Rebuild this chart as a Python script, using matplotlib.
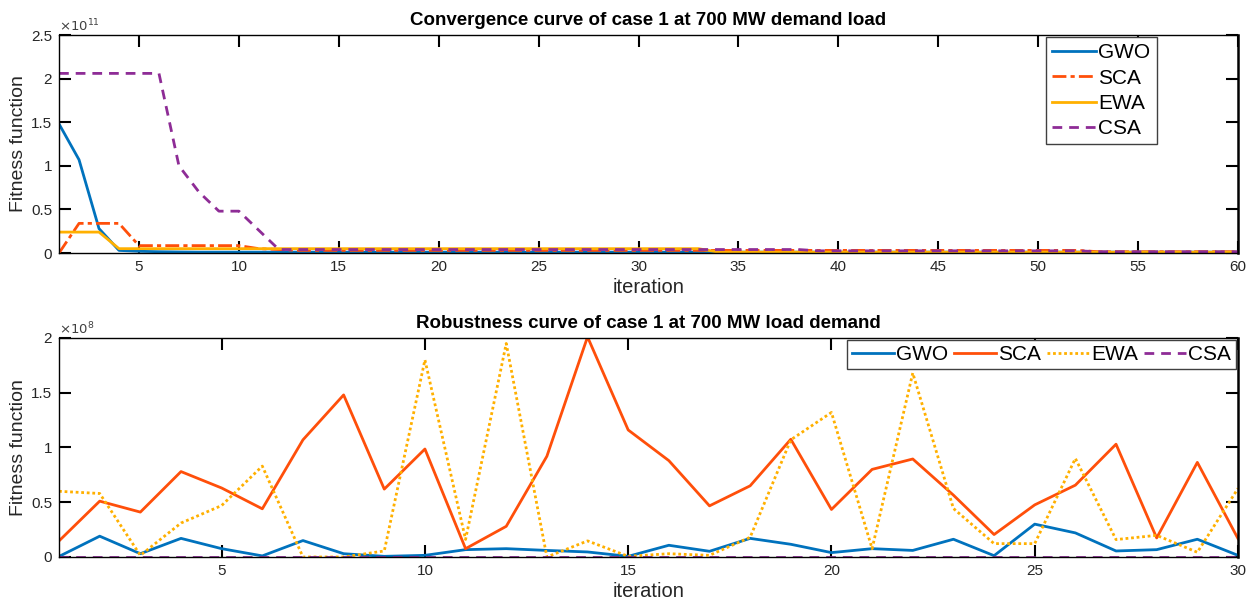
import matplotlib
matplotlib.use("Agg")
import matplotlib.pyplot as plt
from matplotlib.ticker import FuncFormatter
import numpy as np

plt.rcParams["font.family"] = ["Liberation Sans", "DejaVu Sans"]

# --- convergence curves (values in units of 1e11), iterations 1..60 ---
conv_iter = list(range(1, 61))
conv_gwo = [1.48, 1.07, 0.28, 0.03, 0.02, 0.015, 0.012, 0.01, 0.01, 0.01,
            0.01, 0.01, 0.01, 0.01, 0.01, 0.01, 0.01, 0.01, 0.01, 0.01,
            0.01, 0.01, 0.01, 0.01, 0.01, 0.01, 0.01, 0.01, 0.01, 0.01,
            0.01, 0.01, 0.01, 0.01, 0.01, 0.01, 0.01, 0.01, 0.01, 0.01,
            0.01, 0.01, 0.01, 0.01, 0.01, 0.01, 0.01, 0.01, 0.01, 0.01,
            0.01, 0.01, 0.01, 0.01, 0.01, 0.01, 0.01, 0.01, 0.01, 0.01]
conv_sca = [0.0, 0.34, 0.34, 0.34, 0.085, 0.085, 0.085, 0.085, 0.085, 0.085,
            0.05, 0.04, 0.03, 0.03, 0.03, 0.03, 0.03, 0.03, 0.03, 0.03,
            0.03, 0.03, 0.03, 0.03, 0.03, 0.03, 0.03, 0.03, 0.03, 0.03,
            0.03, 0.03, 0.03, 0.03, 0.03, 0.03, 0.03, 0.03, 0.03, 0.03,
            0.03, 0.03, 0.03, 0.03, 0.03, 0.03, 0.03, 0.03, 0.03, 0.03,
            0.03, 0.03, 0.015, 0.015, 0.015, 0.015, 0.015, 0.015, 0.015, 0.015]
conv_ewa = [0.24, 0.24, 0.24, 0.05, 0.05, 0.05, 0.05, 0.05, 0.05, 0.05,
            0.05, 0.05, 0.05, 0.05, 0.05, 0.05, 0.05, 0.05, 0.05, 0.05,
            0.05, 0.05, 0.05, 0.05, 0.05, 0.05, 0.05, 0.05, 0.05, 0.05,
            0.05, 0.05, 0.05, 0.01, 0.01, 0.01, 0.01, 0.01, 0.01, 0.01,
            0.01, 0.01, 0.01, 0.01, 0.01, 0.01, 0.01, 0.01, 0.01, 0.01,
            0.01, 0.01, 0.01, 0.01, 0.01, 0.01, 0.01, 0.01, 0.01, 0.01]
conv_csa = [2.06, 2.06, 2.06, 2.06, 2.06, 2.06, 1.0, 0.70, 0.48, 0.48,
            0.26, 0.04, 0.04, 0.04, 0.04, 0.04, 0.04, 0.04, 0.04, 0.04,
            0.04, 0.04, 0.04, 0.04, 0.04, 0.04, 0.04, 0.04, 0.04, 0.04,
            0.04, 0.04, 0.04, 0.04, 0.04, 0.04, 0.04, 0.04, 0.025, 0.025,
            0.025, 0.025, 0.025, 0.025, 0.025, 0.025, 0.025, 0.025, 0.025, 0.025,
            0.025, 0.025, 0.015, 0.015, 0.015, 0.015, 0.015, 0.015, 0.015, 0.015]

# --- robustness curves (values in units of 1e8), runs 1..30 ---
rob_iter = list(range(1, 31))
rob_gwo = [0.005, 0.19, 0.03, 0.17, 0.076, 0.01, 0.15, 0.03, 0.006, 0.015,
           0.067, 0.076, 0.06, 0.046, 0.006, 0.107, 0.052, 0.17, 0.116, 0.04,
           0.076, 0.06, 0.162, 0.012, 0.30, 0.22, 0.055, 0.067, 0.162, 0.015]
rob_sca = [0.147, 0.51, 0.41, 0.78, 0.63, 0.44, 1.07, 1.48, 0.62, 0.986,
           0.076, 0.28, 0.92, 2.01, 1.16, 0.88, 0.467, 0.65, 1.075, 0.434,
           0.80, 0.895, 0.565, 0.205, 0.476, 0.656, 1.03, 0.174, 0.864, 0.168]
rob_ewa = [0.60, 0.58, 0.015, 0.31, 0.47, 0.83, 0.0, 0.0, 0.055, 1.80,
           0.16, 1.95, 0.0, 0.147, 0.006, 0.03, 0.015, 0.18, 1.07, 1.32,
           0.076, 1.68, 0.443, 0.122, 0.122, 0.90, 0.159, 0.198, 0.043, 0.626]
rob_csa = [0.0, 0.0, 0.0, 0.0, 0.0, 0.0, 0.0, 0.0, 0.0, 0.0,
           0.0, 0.0, 0.0, 0.0, 0.0, 0.0, 0.0, 0.0, 0.0, 0.0,
           0.0, 0.0, 0.0, 0.0, 0.0, 0.0, 0.0, 0.0, 0.0, 0.0]

labels = ["GWO", "SCA", "EWA", "CSA"]
colors = ["#0072BD", "#FF4F0A", "#FFB000", "#8E2C96"]


def style_axes(ax, xmax, ymax, exponent):
    ax.set_xlim(1, xmax)
    ax.set_ylim(0, ymax)
    ax.set_xticks(np.arange(5, xmax + 1, 5))
    ax.set_yticks(np.arange(0, ymax + 0.01, 0.5))
    ax.yaxis.set_major_formatter(FuncFormatter(lambda v, p: f"{v:g}"))
    ax.tick_params(direction="in", length=8.5, width=1.5, top=True, right=True,
                   labelsize=11, colors="black", labelcolor="#262626", pad=5)
    for side in ax.spines.values():
        side.set_linewidth(1.0)
    ax.spines["right"].set_linewidth(1.8)
    ax.text(0.0, 1.005, r"$\times 10^{%d}$" % exponent, transform=ax.transAxes,
            fontsize=9.5, color="#404040", ha="left", va="bottom")
    ax.set_xlabel("iteration", fontsize=14.5, color="#262626", labelpad=3)
    ax.set_ylabel("Fitness function", fontsize=14, color="#262626", labelpad=3)


fig = plt.figure(figsize=(12.51, 6.03), dpi=100)
ax1 = fig.add_axes([0.0472, 0.5804, 0.9424, 0.3615])
ax2 = fig.add_axes([0.0472, 0.0763, 0.9424, 0.3632])

conv_styles = ["-", (0, (5, 1.5, 1.5, 1.5)), "-", (0, (3.5, 2.5))]
for series, lab, col, ls in zip([conv_gwo, conv_sca, conv_ewa, conv_csa], labels, colors, conv_styles):
    ax1.plot(conv_iter, series, color=col, linestyle=ls, linewidth=2, label=lab)
style_axes(ax1, 60, 2.5, 11)
ax1.set_title("Convergence curve of case 1 at 700 MW demand load", fontsize=13.5,
              fontweight="bold", pad=7)
ax1.legend(loc="upper right", bbox_to_anchor=(0.931, 0.99), fontsize=15,
           handlelength=2.1, handletextpad=0.1, labelspacing=0.3, borderpad=0.3,
           borderaxespad=0, fancybox=False, edgecolor="#404040", framealpha=1)

rob_styles = ["-", "-", (0, (1, 1)), (0, (3.5, 2.5))]
for series, lab, col, ls in zip([rob_gwo, rob_sca, rob_ewa, rob_csa], labels, colors, rob_styles):
    ax2.plot(rob_iter, series, color=col, linestyle=ls, linewidth=2, label=lab)
style_axes(ax2, 30, 2, 8)
ax2.set_title("Robustness curve of case 1 at 700 MW load demand", fontsize=13.5,
              fontweight="bold", pad=7)
ax2.legend(loc="upper right", bbox_to_anchor=(1.0, 1.0), ncol=4, fontsize=15,
           handlelength=2.0, handletextpad=0.1, columnspacing=0.3, borderpad=0.25,
           borderaxespad=0.1, fancybox=False, edgecolor="#404040", framealpha=1)

fig.savefig("out.png", dpi=100)
